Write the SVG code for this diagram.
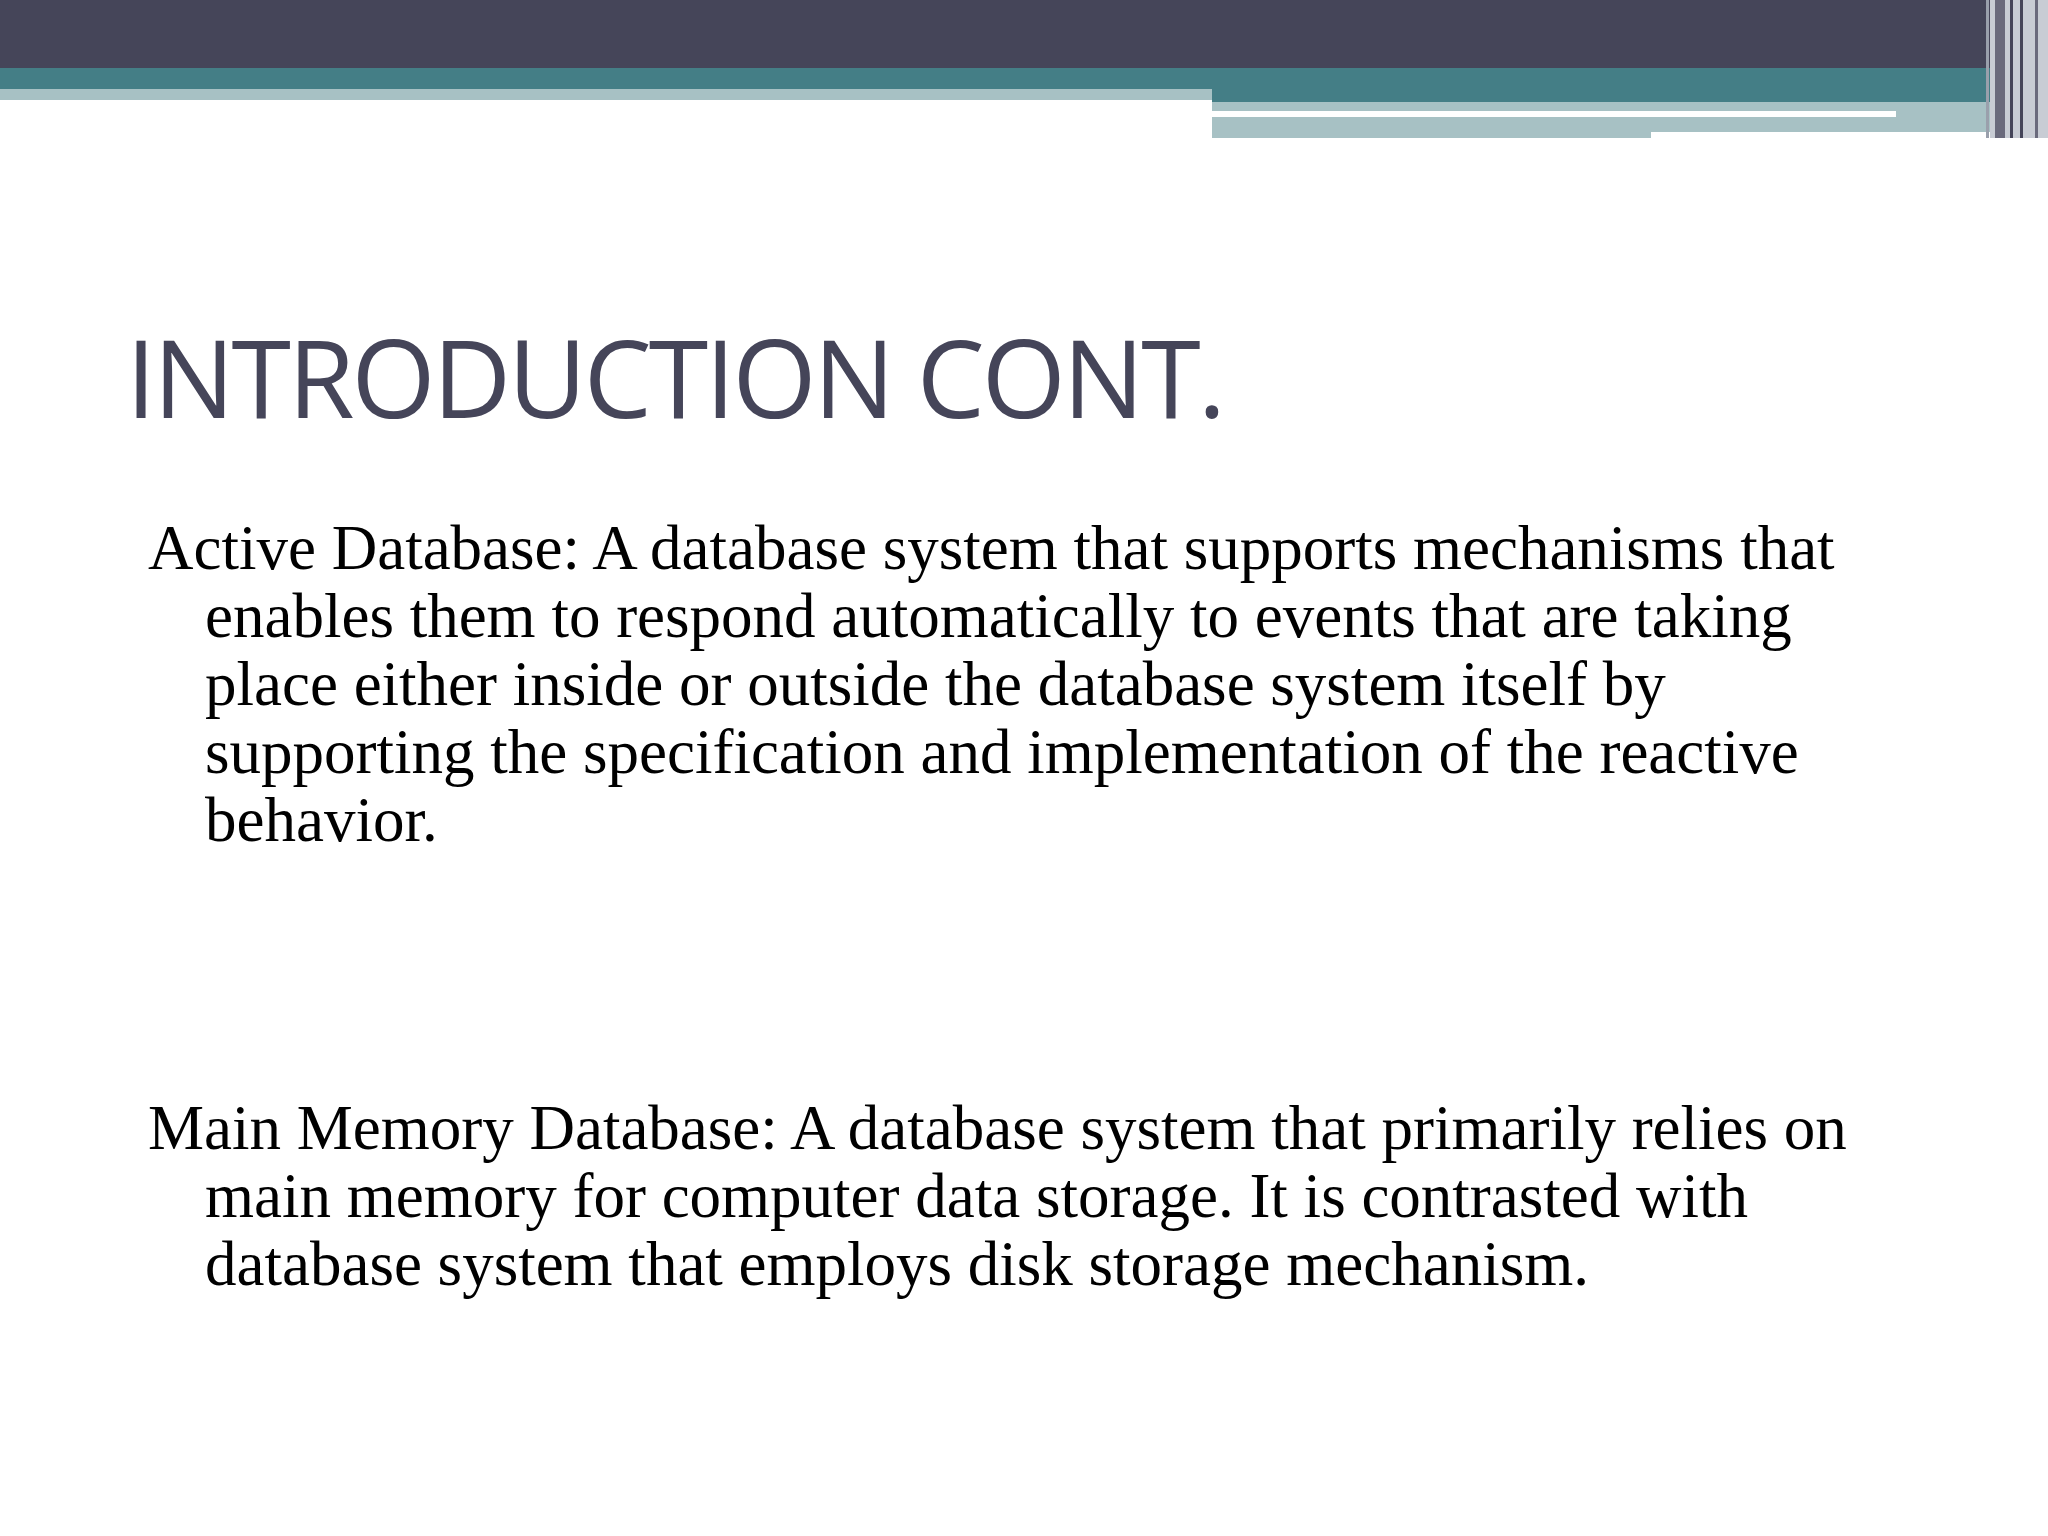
<svg xmlns="http://www.w3.org/2000/svg" width="2048" height="1536" viewBox="0 0 2048 1536">
<style>.b{font-family:"Liberation Serif",serif;font-size:63px;fill:#000}.t{font-family:"Open Sans","DejaVu Sans",sans-serif;font-size:108px;fill:#454559}</style>
<rect width="2048" height="1536" fill="#fff"/>
<g id="header">
<rect x="0" y="0" width="2048" height="68" fill="#454559"/>
<rect x="0" y="68" width="1990" height="21" fill="#447e86"/>
<rect x="0" y="89" width="1212" height="11" fill="#a7c1c4"/>
<rect x="1212" y="68" width="778" height="34" fill="#447e86"/>
<rect x="1212" y="102" width="778" height="36" fill="#a7c1c4"/>
<rect x="1212" y="111" width="684" height="6" fill="#fff"/>
<rect x="1651" y="132" width="339" height="6" fill="#fff"/>
<rect x="1990" y="0" width="58" height="138" fill="#c8ccd4"/>
<rect x="1986" y="0" width="3" height="138" fill="#9aa0ac"/>
<rect x="1995" y="0" width="10" height="138" fill="#6a6a7c"/>
<rect x="2010" y="0" width="3" height="138" fill="#454559"/>
<rect x="2020" y="0" width="3" height="138" fill="#454559"/>
<rect x="2035" y="0" width="3" height="138" fill="#6a6a7c"/>
</g>
<text class="t" x="126" y="418" textLength="1100">INTRODUCTION CONT.</text>
<g id="p1">
<text class="b" x="148" y="569">Active Database: A database system that supports mechanisms that</text>
<text class="b" x="205" y="637">enables them to respond automatically to events that are taking</text>
<text class="b" x="205" y="705">place either inside or outside the database system itself by</text>
<text class="b" x="205" y="773">supporting the specification and implementation of the reactive</text>
<text class="b" x="205" y="841">behavior.</text>
</g>
<g id="p2">
<text class="b" x="148" y="1149">Main Memory Database: A database system that primarily relies on</text>
<text class="b" x="205" y="1217">main memory for computer data storage. It is contrasted with</text>
<text class="b" x="205" y="1285">database system that employs disk storage mechanism.</text>
</g>
</svg>
